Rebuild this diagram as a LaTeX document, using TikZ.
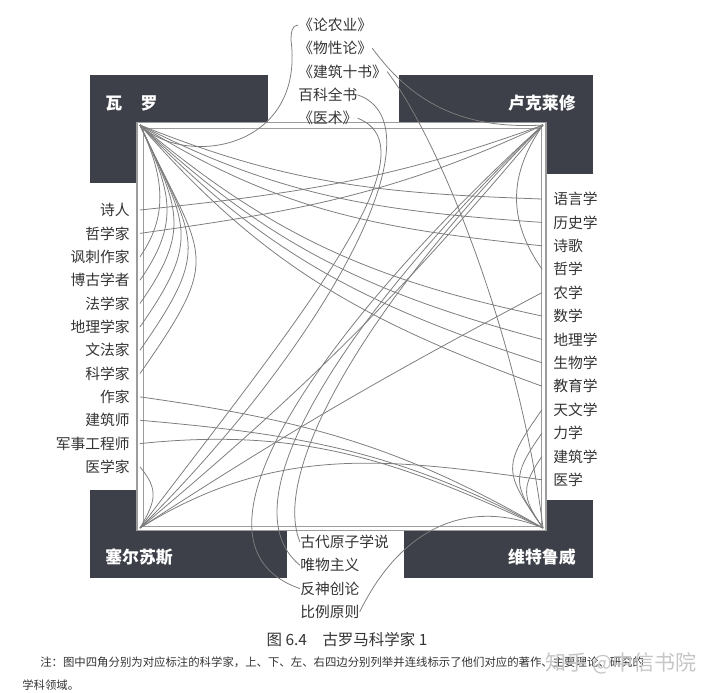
\documentclass[tikz,border=0pt]{standalone}
\usepackage{fontspec}
\setmainfont{Noto Sans CJK SC}

\definecolor{boxgray}{HTML}{3D4048}
\definecolor{linegray}{HTML}{7C7C7C}
\definecolor{framegray}{HTML}{9C9C9C}
\definecolor{txtgray}{HTML}{333333}

\tikzset{
  lab/.style={inner sep=0pt, text=txtgray, font=\fontsize{10.5}{12}\selectfont},
  who/.style={inner sep=0pt, text=white, font=\fontsize{12}{14}\selectfont\bfseries},
  link/.style={linegray, line width=0.55pt},
}

\begin{document}
\begin{tikzpicture}[x=0.025cm, y=0.025cm]
  \useasboundingbox (0,0) rectangle (707,-692);
  % four corners
  \fill[boxgray] (90,-75) rectangle (268,-183);
  \fill[boxgray] (399,-75) rectangle (593,-174);
  \fill[boxgray] (90,-490) rectangle (287,-578);
  \fill[boxgray] (404,-500) rectangle (593,-578);
  \node[who, anchor=west] (varro) at (105,-103) {瓦\hspace{1.1em}罗};
  \node[who, anchor=east] (lucr) at (576,-103) {卢克莱修};
  \node[who, anchor=west] (cels) at (105,-557) {塞尔苏斯};
  \node[who, anchor=east] (vitr) at (576,-557) {维特鲁威};
  % frame
  \draw[framegray, line width=1.4pt, fill=white] (137,-122.5) rectangle (546,-530.5);
  \draw[framegray, line width=0.6pt] (143,-128) rectangle (541,-526);
  \coordinate (varroC) at (140,-125);
  \coordinate (lucrC) at (543,-125);
  \coordinate (celsC) at (140,-528);
  \coordinate (vitrC) at (543,-528);
  \coordinate (fL) at (140,0);
  \coordinate (fR) at (542,0);
  % labels
  \foreach \t [count=\i] in {诗人,哲学家,讽刺作家,博古学者,法学家,地理学家,文法家,科学家,作家,建筑师,军事工程师,医学家}
    \node[lab, anchor=east] (l\i) at (130,{-210-23.36*(\i-1)}) {\t};
  \foreach \t [count=\i] in {语言学,历史学,诗歌,哲学,农学,数学,地理学,生物学,教育学,天文学,力学,建筑学,医学}
    \node[lab, anchor=west] (r\i) at (553,{-199-23.4*(\i-1)}) {\t};
  \foreach \t [count=\i] in {《论农业》,《物性论》,《建筑十书》,百科全书,《医术》}
    \node[lab, anchor=west] (t\i) at (298,{-25-23.3*(\i-1)}) {\t};
  \foreach \t [count=\i] in {古代原子学说,唯物主义,反神创论,比例原则}
    \node[lab, anchor=west] (b\i) at (300,{-542-23.3*(\i-1)}) {\t};
  % varro
  \draw[link] (varroC) .. controls (185,-168) and (305,-150) .. (291,-40) to[out=90,in=180] (t1.west);
  \foreach \i/\o/\n in {1/-22/178,2/-27/176,3/-32/174,6/-40/168,7/-43/165,8/-46/162,9/-49/160}
    \draw[link] (varroC) to[out=\o, in=\n] (r\i -| fR);
  \foreach \i/\lo in {3/1.03,4/1.19,5/1.3,6/1.39,7/1.46,8/1.54}
    \draw[link] (varroC) to[out=-65, in=55, looseness=\lo] (l\i -| fL);
  % lucretius
  \draw[link] (t2.east) .. controls (410,-100) and (460,-130) .. (lucrC);
  \draw[link] (l1 -| fL) to[out=6, in=-160] (lucrC);
  \draw[link] (l2 -| fL) to[out=8, in=-155] (lucrC);
  \draw[link] (lucrC) to[out=-125, in=125, looseness=1.07] (r4 -| fR);
  \draw[link] (lucrC) .. controls (370,-300) and (270,-470) .. (b1.west);
  \draw[link] (lucrC) .. controls (360,-300) and (220,-500) .. (b2.west);
  \draw[link] (lucrC) .. controls (350,-300) and (160,-540) .. (b3.west);
  \draw[link] (lucrC) to[bend left=5] (celsC);
  % celsus
  \draw[link] (t5.east) .. controls (440,-150) and (290,-330) .. (celsC);
  \draw[link] (t4.east) .. controls (445,-125) and (325,-345) .. (celsC);
  \draw[link] (celsC) to[out=33, in=-152] (r5 -| fR);
  \draw[link] (celsC) to[out=32, in=172] (r13 -| fR);
  \draw[link] (l12 -| fL) to[out=-50, in=60, looseness=1.28] (celsC);
  % vitruvius
  \draw[link] (t3.east) .. controls (440,-140) and (520,-340) .. (vitrC);
  \draw[link] (l9 -| fL) to[out=-8, in=150] (vitrC);
  \draw[link] (l10 -| fL) to[out=-5, in=152] (vitrC);
  \draw[link] (l11 -| fL) to[out=6, in=155] (vitrC);
  \foreach \i/\lo in {10/1.5,11/1.44,12/1.32}
    \draw[link] (vitrC) to[out=125, in=-125, looseness=\lo] (r\i -| fR);
  \draw[link] (b4.east) .. controls (405,-520) and (475,-500) .. (vitrC);
  % caption
  \node[text=txtgray, font=\fontsize{11}{13}\selectfont] (cap) at (347,-640) {图 6.4\hspace{1em}古罗马科学家 1};
  \node[anchor=west, inner sep=0pt, text=txtgray, font=\fontsize{8.1}{10}\selectfont] (note1) at (40,-662)
    {注：图中四角分别为对应标注的科学家，上、下、左、右四边分别列举并连线标示了他们对应的著作、主要理论、研究的};
  \node[anchor=west, inner sep=0pt, text=txtgray, font=\fontsize{8.1}{10}\selectfont] (note2) at (22,-685) {学科领域。};
  \node[anchor=west, inner sep=0pt, text=gray!45, font=\fontsize{15}{17}\selectfont] (wm) at (545,-663) {知乎 @中信书院};
\end{tikzpicture}
\end{document}
